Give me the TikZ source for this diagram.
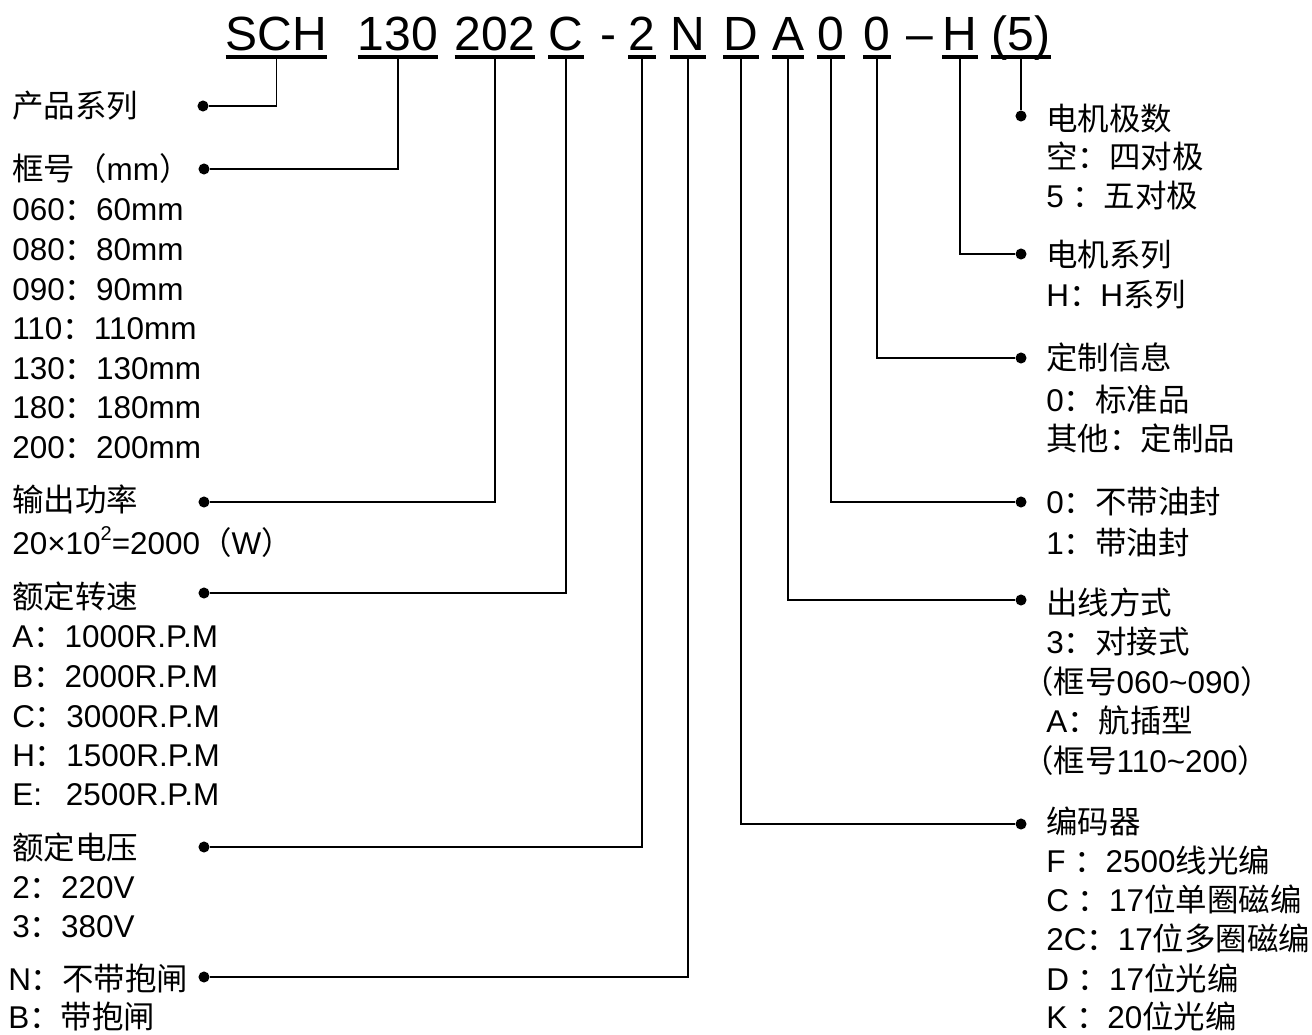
\documentclass[tikz,border=0pt]{standalone}
\usepackage{fontspec}
\setmainfont{Liberation Sans}
\newfontfamily\cjk{Noto Sans CJK SC}
\newcommand\zh[1]{{\cjk #1}}
\newcommand\supii{\raisebox{0.42em}{\fontsize{15pt}{15pt}\selectfont 2}}
\begin{document}
\begin{tikzpicture}[x=0.75pt,y=-0.75pt,
  lt/.style={anchor=base west,inner sep=0pt,font=\fontsize{23.6pt}{28pt}\selectfont},
  ttl/.style={anchor=base,inner sep=0pt,font=\fontsize{36pt}{40pt}\selectfont},
  ul/.style={line width=2.6pt},
  conn/.style={line width=0.9pt},
  dot/.style={circle,fill=black,inner sep=0pt,minimum size=8.3pt}]
\useasboundingbox (0,0) rectangle (1312,1034);
\fill[white] (0,0) rectangle (1312,1034);
\coordinate (uy) at (0,57);
% title
\node[ttl] (t1) at (276.5,51) {SCH};
\node[ttl] (t2) at (398,51) {130};
\node[ttl] (t3) at (495,51) {202};
\node[ttl] (t4) at (566,51) {C};
\node[ttl] (tdash) at (608,51) {-};
\node[ttl] (t5) at (642,51) {2};
\node[ttl] (t6) at (688,51) {N};
\node[ttl] (t7) at (741,51) {D};
\node[ttl] (t8) at (788,51) {A};
\node[ttl] (t9) at (831,51) {0};
\node[ttl] (t10) at (877,51) {0};
\node[ttl] (tendash) at (920,51) {–};
\node[ttl] (t11) at (960,51) {H};
\node[ttl] (t12) at (1021,51) {(5)};
\foreach \t in {t1,t2,t3,t4,t5,t6,t7,t8,t9,t10,t11,t12}
  \draw[ul] (\t.west |- uy) -- (\t.east |- uy);
% dots
\node[dot] (d1) at (203,106) {};
\node[dot] (d2) at (204,169) {};
\node[dot] (d3) at (204,502) {};
\node[dot] (d4) at (204,593) {};
\node[dot] (d5) at (204,847) {};
\node[dot] (d6) at (204,977) {};
\node[dot] (r1) at (1021,116) {};
\node[dot] (r2) at (1021,254) {};
\node[dot] (r3) at (1021,358) {};
\node[dot] (r4) at (1021,502) {};
\node[dot] (r5) at (1021,600) {};
\node[dot] (r6) at (1021,824) {};
% connectors
\draw[conn] (t1.center |- uy) |- (d1);
\draw[conn] (t2.center |- uy) |- (d2);
\draw[conn] (t3.center |- uy) |- (d3);
\draw[conn] (t4.center |- uy) |- (d4);
\draw[conn] (t5.center |- uy) |- (d5);
\draw[conn] (t6.center |- uy) |- (d6);
\draw[conn] (t7.center |- uy) |- (r6);
\draw[conn] (t8.center |- uy) |- (r5);
\draw[conn] (t9.center |- uy) |- (r4);
\draw[conn] (t10.center |- uy) |- (r3);
\draw[conn] (t11.center |- uy) |- (r2);
\draw[conn] (t12.center |- uy) -- (r1);
% left texts
\node[lt] (a1) at (12,118) {\zh{产品系列}};
\node[lt] (a2) at (12,181) {\zh{框号（}mm\zh{）}};
\node[lt] (a3) at (12,221) {060\zh{：}60mm};
\node[lt] (a4) at (12,260) {080\zh{：}80mm};
\node[lt] (a5) at (12,300) {090\zh{：}90mm};
\node[lt] (a6) at (12,339) {110\zh{：}110mm};
\node[lt] (a7) at (12,379) {130\zh{：}130mm};
\node[lt] (a8) at (12,418) {180\zh{：}180mm};
\node[lt] (a9) at (12,458) {200\zh{：}200mm};
\node[lt] (b1) at (12,511) {\zh{输出功率}};
\node[lt] (b2) at (12,554) {20×10\supii=2000\zh{（}W\zh{）}};
\node[lt] (c1) at (12,608) {\zh{额定转速}};
\node[lt] (c2) at (12,647) {A\zh{：}1000R.P.M};
\node[lt] (c3) at (12,687) {B\zh{：}2000R.P.M};
\node[lt] (c4) at (12,727) {C\zh{：}3000R.P.M};
\node[lt] (c5) at (12,766) {H\zh{：}1500R.P.M};
\node[lt] (c6) at (12,805) {E:\hspace{18pt}2500R.P.M};
\node[lt] (e1) at (12,859) {\zh{额定电压}};
\node[lt] (e2) at (12,898) {2\zh{：}220V};
\node[lt] (e3) at (12,937) {3\zh{：}380V};
\node[lt] (f1) at (8,990) {N\zh{：不带抱闸}};
\node[lt] (f2) at (8,1028) {B\zh{：带抱闸}};
% right texts
\node[lt] (g1) at (1046,131) {\zh{电机极数}};
\node[lt] (g2) at (1046,169) {\zh{空：四对极}};
\node[lt] (g3) at (1046,208) {5 \zh{：五对极}};
\node[lt] (h1) at (1046,266) {\zh{电机系列}};
\node[lt] (h2) at (1046,306) {H\zh{：}H\zh{系列}};
\node[lt] (i1) at (1046,369) {\zh{定制信息}};
\node[lt] (i2) at (1046,411) {0\zh{：标准品}};
\node[lt] (i3) at (1046,450) {\zh{其他：定制品}};
\node[lt] (j1) at (1046,513) {0\zh{：不带油封}};
\node[lt] (j2) at (1046,554) {1\zh{：带油封}};
\node[lt] (k1) at (1046,614) {\zh{出线方式}};
\node[lt] (k2) at (1046,653) {3\zh{：对接式}};
\node[lt] (k3) at (1022,693) {\zh{（框号}060\textasciitilde090\zh{）}};
\node[lt] (k4) at (1046,732) {A\zh{：航插型}};
\node[lt] (k5) at (1022,772) {\zh{（框号}110\textasciitilde200\zh{）}};
\node[lt] (m1) at (1046,833) {\zh{编码器}};
\node[lt] (m2) at (1046,872) {F \zh{：}2500\zh{线光编}};
\node[lt] (m3) at (1046,911) {C \zh{：}17\zh{位单圈磁编}};
\node[lt] (m4) at (1046,950) {2C\zh{：}17\zh{位多圈磁编}};
\node[lt] (m5) at (1046,990) {D \zh{：}17\zh{位光编}};
\node[lt] (m6) at (1046,1028) {K \zh{：}20\zh{位光编}};
\end{tikzpicture}
\end{document}
